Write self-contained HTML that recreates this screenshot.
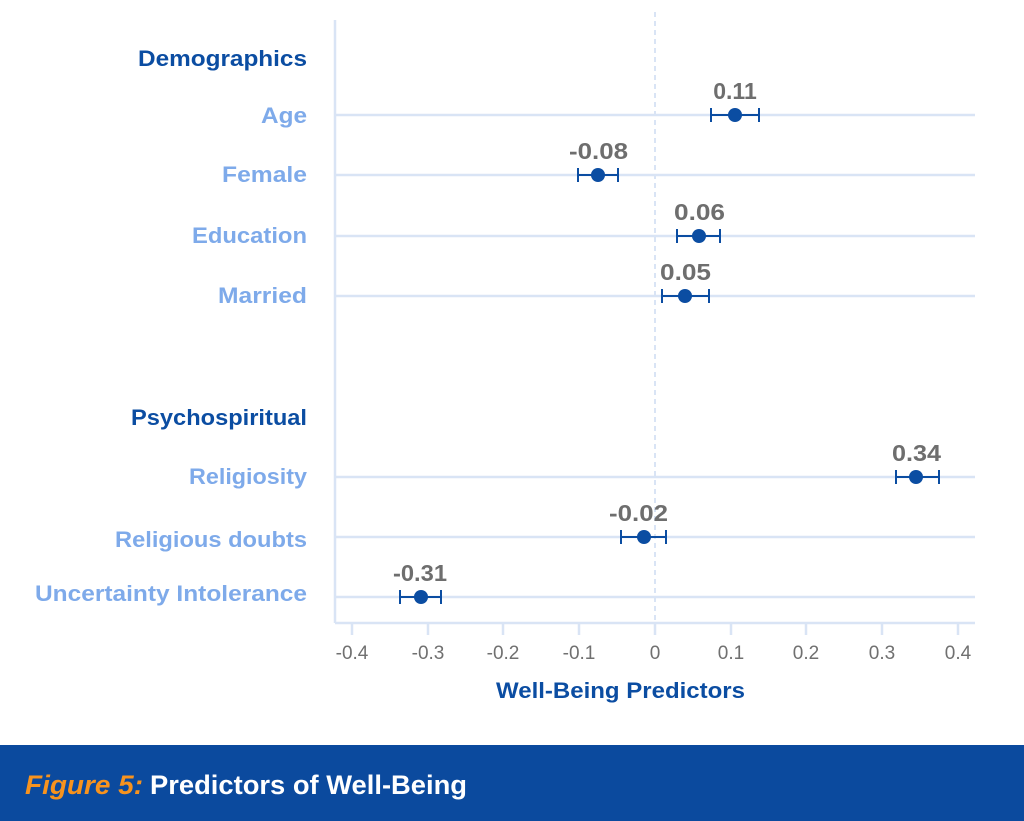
<!DOCTYPE html>
<html><head><style>
body{margin:0;width:1024px;height:821px;background:#fff;overflow:hidden;font-family:"Liberation Sans",sans-serif}
</style></head><body>
<svg width="1024" height="821" xmlns="http://www.w3.org/2000/svg" style="position:absolute;left:0;top:0">
<g stroke="#d9e4f5" stroke-width="2.5">
<line x1="335" y1="20" x2="335" y2="623"/>
<line x1="335" y1="623" x2="975" y2="623"/>
<line x1="335" y1="115" x2="975" y2="115"/>
<line x1="335" y1="175" x2="975" y2="175"/>
<line x1="335" y1="236" x2="975" y2="236"/>
<line x1="335" y1="296" x2="975" y2="296"/>
<line x1="335" y1="477" x2="975" y2="477"/>
<line x1="335" y1="537" x2="975" y2="537"/>
<line x1="335" y1="597" x2="975" y2="597"/>
<line x1="352" y1="623" x2="352" y2="635"/><line x1="428" y1="623" x2="428" y2="635"/>
<line x1="503" y1="623" x2="503" y2="635"/><line x1="579" y1="623" x2="579" y2="635"/>
<line x1="655" y1="623" x2="655" y2="635"/><line x1="731" y1="623" x2="731" y2="635"/>
<line x1="806" y1="623" x2="806" y2="635"/><line x1="882" y1="623" x2="882" y2="635"/>
<line x1="958" y1="623" x2="958" y2="635"/>
</g>
<line x1="655" y1="12" x2="655" y2="623" stroke="#d9e4f5" stroke-width="2" stroke-dasharray="5,4"/>
<g font-size="19" fill="#707070" text-anchor="middle">
<text x="352" y="659">-0.4</text><text x="428" y="659">-0.3</text><text x="503" y="659">-0.2</text><text x="579" y="659">-0.1</text><text x="655" y="659">0</text><text x="731" y="659">0.1</text><text x="806" y="659">0.2</text><text x="882" y="659">0.3</text><text x="958" y="659">0.4</text>
</g>
<text x="496" y="698" font-size="22" font-weight="bold" fill="#0b4da2" textLength="249" lengthAdjust="spacingAndGlyphs">Well-Being Predictors</text>
<g font-size="22" font-weight="bold">
<text x="138" y="66" fill="#0b4da2" textLength="169" lengthAdjust="spacingAndGlyphs">Demographics</text>
<text x="261" y="123" fill="#7eaaea" textLength="46" lengthAdjust="spacingAndGlyphs">Age</text>
<text x="222" y="182" fill="#7eaaea" textLength="85" lengthAdjust="spacingAndGlyphs">Female</text>
<text x="192" y="243" fill="#7eaaea" textLength="115" lengthAdjust="spacingAndGlyphs">Education</text>
<text x="218" y="303" fill="#7eaaea" textLength="89" lengthAdjust="spacingAndGlyphs">Married</text>
<text x="131" y="425" fill="#0b4da2" textLength="176" lengthAdjust="spacingAndGlyphs">Psychospiritual</text>
<text x="189" y="484" fill="#7eaaea" textLength="118" lengthAdjust="spacingAndGlyphs">Religiosity</text>
<text x="115" y="547" fill="#7eaaea" textLength="192" lengthAdjust="spacingAndGlyphs">Religious doubts</text>
<text x="35" y="601" fill="#7eaaea" textLength="272" lengthAdjust="spacingAndGlyphs">Uncertainty Intolerance</text>
</g>
<g stroke="#0b4da2" stroke-width="2" fill="#0b4da2">
<line x1="711" y1="115" x2="759" y2="115"/><line x1="711" y1="108" x2="711" y2="122"/><line x1="759" y1="108" x2="759" y2="122"/><circle cx="735" cy="115" r="7" stroke="none"/>
<line x1="578" y1="175" x2="618" y2="175"/><line x1="578" y1="168" x2="578" y2="182"/><line x1="618" y1="168" x2="618" y2="182"/><circle cx="598" cy="175" r="7" stroke="none"/>
<line x1="677" y1="236" x2="720" y2="236"/><line x1="677" y1="229" x2="677" y2="243"/><line x1="720" y1="229" x2="720" y2="243"/><circle cx="699" cy="236" r="7" stroke="none"/>
<line x1="662" y1="296" x2="709" y2="296"/><line x1="662" y1="289" x2="662" y2="303"/><line x1="709" y1="289" x2="709" y2="303"/><circle cx="685" cy="296" r="7" stroke="none"/>
<line x1="896" y1="477" x2="939" y2="477"/><line x1="896" y1="470" x2="896" y2="484"/><line x1="939" y1="470" x2="939" y2="484"/><circle cx="916" cy="477" r="7" stroke="none"/>
<line x1="621" y1="537" x2="666" y2="537"/><line x1="621" y1="530" x2="621" y2="544"/><line x1="666" y1="530" x2="666" y2="544"/><circle cx="644" cy="537" r="7" stroke="none"/>
<line x1="400" y1="597" x2="441" y2="597"/><line x1="400" y1="590" x2="400" y2="604"/><line x1="441" y1="590" x2="441" y2="604"/><circle cx="421" cy="597" r="7" stroke="none"/>
</g>
<g font-size="23" font-weight="bold" fill="#6e6e6e">
<text x="735" y="99" text-anchor="middle">0.11</text>
<text x="569" y="159" textLength="59" lengthAdjust="spacingAndGlyphs">-0.08</text>
<text x="674" y="220" textLength="51" lengthAdjust="spacingAndGlyphs">0.06</text>
<text x="660" y="280" textLength="51" lengthAdjust="spacingAndGlyphs">0.05</text>
<text x="892" y="461" textLength="49" lengthAdjust="spacingAndGlyphs">0.34</text>
<text x="609" y="521" textLength="59" lengthAdjust="spacingAndGlyphs">-0.02</text>
<text x="393" y="581" textLength="54" lengthAdjust="spacingAndGlyphs">-0.31</text>
</g>
<rect x="0" y="745" width="1024" height="76" fill="#0b4a9e"/>
<text x="25" y="794" font-size="27" font-weight="bold" font-style="italic" fill="#f7931e" textLength="118" lengthAdjust="spacingAndGlyphs">Figure 5:</text>
<text x="150" y="794" font-size="27" font-weight="bold" fill="#fff" textLength="317" lengthAdjust="spacingAndGlyphs">Predictors of Well-Being</text>
</svg>
</body></html>
